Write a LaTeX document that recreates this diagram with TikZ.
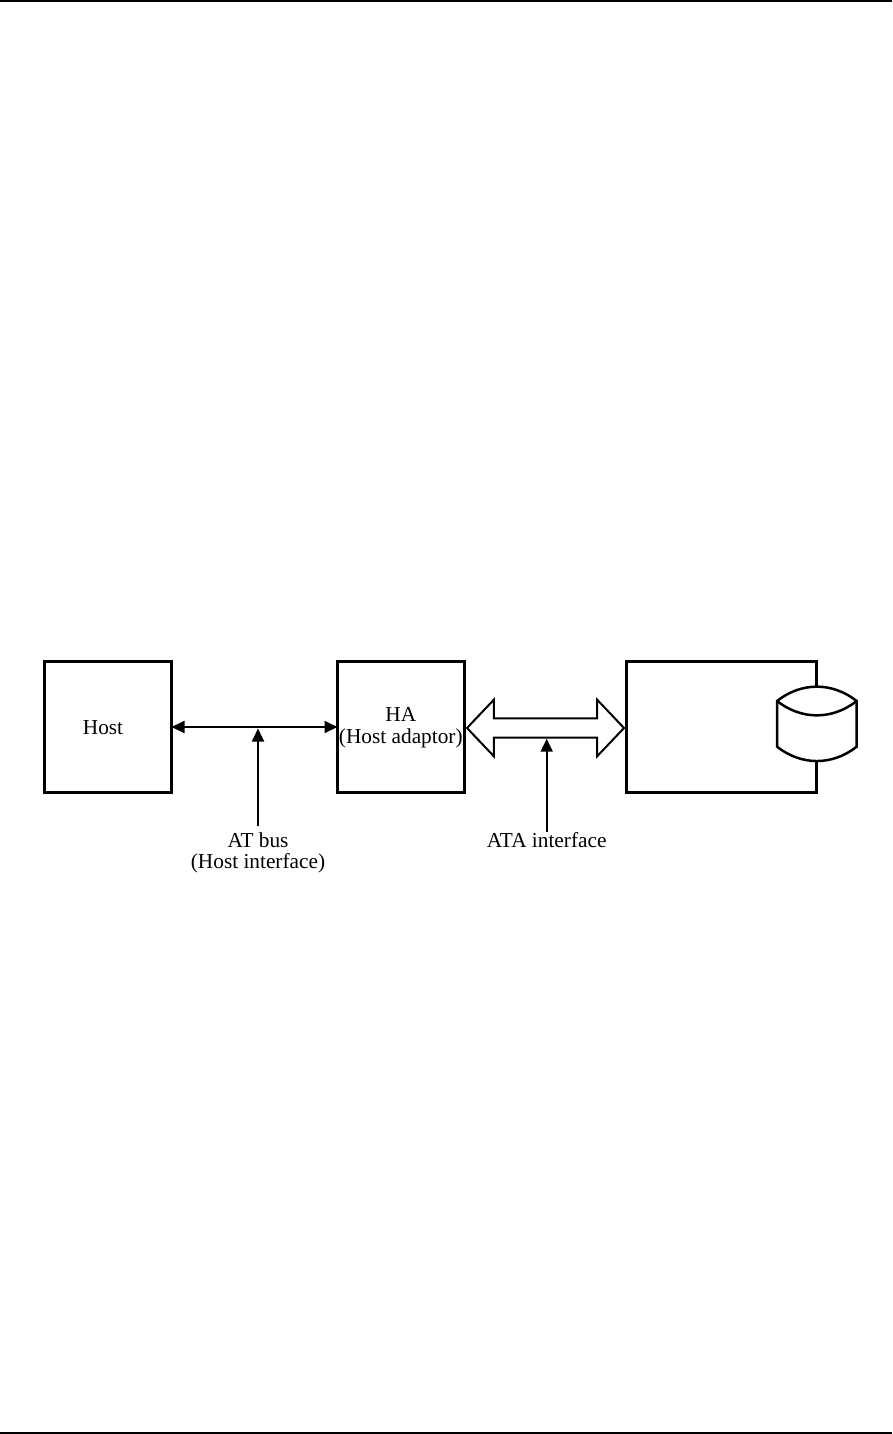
\documentclass[tikz,border=0pt]{standalone}
\usepackage{fontspec}
\setmainfont{Liberation Serif}
\usepackage{tikz}
\usetikzlibrary{arrows.meta,positioning,shapes.arrows}

\begin{document}
\begin{tikzpicture}[
    x=1pt, y=-1pt,
    box/.style={draw, line width=3pt, outer sep=0pt, minimum width=127pt, minimum height=131pt,
                align=center},
    txt/.style={font=\fontsize{21.3}{21.5}\selectfont, align=center, inner sep=0pt},
    arr/.style={{Stealth[length=13pt,width=12pt,inset=0pt]}-{Stealth[length=13pt,width=12pt,inset=0pt]}, line width=2pt},
    uparr/.style={-{Stealth[length=13pt,width=12pt,inset=0pt]}, line width=1.8pt},
    bigarr/.style={double arrow, draw, line width=2pt, minimum height=157pt, inner xsep=0pt, inner ysep=8.7pt,
                double arrow head extend=18.7pt, double arrow tip angle=93},
    disk/.style={draw, fill=white, line width=2.5pt}
]
\useasboundingbox (0,0) rectangle (892,1434);
\fill (0,0) rectangle (892,2);
\fill (0,1432) rectangle (892,1434);

\node[box] (host) at (108,727) {};
\node[box, right=166pt of host] (ha) {};
\node[box, minimum width=190pt, right=162pt of ha] (drive) {};
\node[txt] (hostlbl) at (103,728) {Host};
\node[txt] (halbl) at (400.8,727.5) {HA\\(Host adaptor)};
\node[txt, inner sep=6pt] (atlbl) at (258,853) {AT bus\\(Host interface)};
\node[txt] (atalbl) at (546.7,840) {ATA interface};
\node[bigarr] (ifarr) at (545.5,728) {};

\coordinate (diskl) at (777,701);
\coordinate (diskr) at (856.7,701);
\coordinate (diskbl) at (777,746.7);
\coordinate (diskbr) at (856.7,746.7);

\draw[disk] (diskl) to[bend left=38] (diskr) -- (diskbr) to[bend left=38] (diskbl) -- cycle;
\draw[disk, fill=none] (diskl) to[bend right=38] (diskr);

\draw[arr] (host) -- (ha);
\draw[uparr, shorten >=1.5pt] (atlbl.north) -- (atlbl.north |- host.east);
\draw[uparr] (atalbl.north) -- (atalbl.north |- ifarr.south);
\end{tikzpicture}
\end{document}
